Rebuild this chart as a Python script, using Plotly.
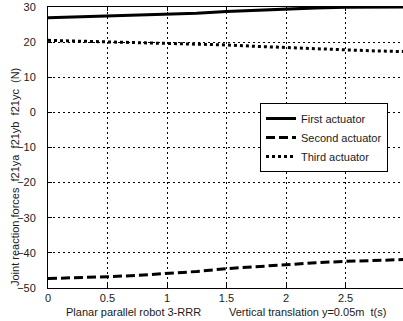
import plotly.graph_objects as go

t = [0, 0.25, 0.5, 0.75, 1.0, 1.25, 1.5, 1.75, 2.0, 2.25, 2.5, 2.75, 3.0]
first_act = [26.95, 27.2, 27.5, 27.7, 27.95, 28.2, 28.75, 29.1, 29.55, 29.75, 29.9, 29.95, 30.0]
second_act = [-47.3, -47.1, -46.8, -46.4, -45.9, -45.3, -44.5, -43.9, -43.3, -42.8, -42.4, -42.1, -41.9]
third_act = [20.5, 20.3, 20.1, 19.9, 19.7, 19.6, 19.2, 18.8, 18.4, 18.1, 17.8, 17.5, 17.3]
names = ["First actuator", "Second actuator", "Third actuator"]

FONT = "Liberation Sans, Arial, sans-serif"
TXT = "#1a1a1a"

fig = go.Figure()
fig.add_trace(go.Scatter(x=t, y=first_act, mode="lines", name=names[0],
                         line=dict(color="black", width=3)))
fig.add_trace(go.Scatter(x=t, y=second_act, mode="lines", name=names[1],
                         line=dict(color="black", width=3, dash="9px,4px")))
fig.add_trace(go.Scatter(x=t, y=third_act, mode="lines", name=names[2],
                         line=dict(color="black", width=3, dash="3px,3px")))

axis_common = dict(
    showline=True, linecolor="black", linewidth=1,
    ticks="inside", ticklen=4, tickcolor="black",
    showgrid=True, gridcolor="black", gridwidth=1, griddash="2px,3px",
    zeroline=False,
    tickfont=dict(family=FONT, size=11, color=TXT),
)

fig.update_xaxes(range=[0, 2.983], tickvals=[0, 0.5, 1, 1.5, 2, 2.5, 3],
                 ticktext=["0", "0.5", "1", "1.5", "2", "2.5", "3"],
                 ticklabelstandoff=0, mirror="ticks", **axis_common)
fig.update_yaxes(range=[-50, 30], tickvals=[-50, -40, -30, -20, -10, 0, 10, 20, 30],
                 ticklabelstandoff=9, mirror=False, **axis_common)

fig.add_annotation(text="Planar parallel robot 3-RRR", xref="paper", yref="paper",
                   x=(133 - 48) / 355, y=-24 / 281, showarrow=False,
                   xanchor="center", yanchor="middle",
                   font=dict(family=FONT, size=11, color=TXT))
fig.add_annotation(text="Vertical translation y=0.05m  t(s)", xref="paper", yref="paper",
                   x=(307 - 48) / 355, y=-24 / 281, showarrow=False,
                   xanchor="center", yanchor="middle",
                   font=dict(family=FONT, size=11, color=TXT))
fig.add_annotation(text="Joint reaction forces  f21ya  f21yb  f21yc  (N)", xref="paper", yref="paper",
                   x=-33 / 355, y=(288 - 177) / 281, showarrow=False, textangle=-90,
                   xanchor="center", yanchor="middle",
                   font=dict(family=FONT, size=11, color=TXT))

fig.update_layout(
    width=403, height=321,
    margin=dict(l=48, r=0, t=7, b=33),
    paper_bgcolor="white", plot_bgcolor="white",
    showlegend=True,
    legend=dict(x=(260 - 48) / 355, y=(288 - 103) / 281, xanchor="left", yanchor="top",
                bgcolor="white", bordercolor="black", borderwidth=1,
                font=dict(family=FONT, size=11, color=TXT),
                tracegroupgap=0, itemwidth=30),
)

fig.write_html("out.html")
